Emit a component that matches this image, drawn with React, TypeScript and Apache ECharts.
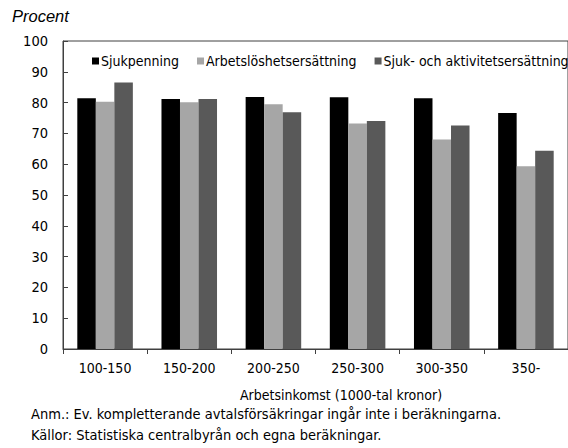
import React, { useEffect, useRef } from "react";
import * as echarts from "echarts";

const categories = ["100-150", "150-200", "200-250", "250-300", "300-350", "350-"];
const sjukpenning = [81.4, 81.2, 81.8, 81.7, 81.4, 76.6];
const arbetsloshet = [80.3, 80.1, 79.5, 73.2, 68.0, 59.3];
const sjukAktivitet = [86.5, 81.2, 76.9, 74.0, 72.6, 64.4];
const yTicks = { min: 0, max: 100, interval: 10 };
const seriesNames = ["Sjukpenning", "Arbetslöshetsersättning", "Sjuk- och aktivitetsersättning"];
const xName = "Arbetsinkomst (1000-tal kronor)";
const yName = "Procent";
const notes = [
  "Anm.: Ev. kompletterande avtalsförsäkringar ingår inte i beräkningarna.",
  "Källor: Statistiska centralbyrån och egna beräkningar.",
];

const NARROW = "'Liberation Sans Narrow', 'DejaVu Sans Condensed', 'Arial Narrow', sans-serif";

export default function App() {
  const ref = useRef<HTMLDivElement>(null);
  useEffect(() => {
    document.body.style.margin = "0";
    const chart = echarts.init(ref.current!, null, { renderer: "svg" });
    const colors = ["#000000", "#a6a6a6", "#595959"];
    const data = [sjukpenning, arbetsloshet, sjukAktivitet];
    chart.setOption({
      animation: false,
      grid: {
        left: 63,
        top: 41,
        width: 506,
        height: 308,
        show: true,
        borderColor: "#404040",
        borderWidth: 1,
        backgroundColor: "transparent",
      },
      legend: {
        left: 87,
        top: 49,
        width: 520,
        icon: "rect",
        itemWidth: 7,
        itemHeight: 7,
        itemGap: 18,
        textStyle: { fontFamily: NARROW, fontSize: 14, color: "#000", padding: [0, 0, 0, -3] },
        data: seriesNames,
      },
      xAxis: {
        type: "category",
        data: categories,
        axisLine: { lineStyle: { color: "#404040" } },
        axisTick: { show: true, length: 5, lineStyle: { color: "#404040" } },
        axisLabel: { fontFamily: NARROW, fontSize: 14, color: "#000", margin: 12 },
        name: xName,
        nameLocation: "middle",
        nameGap: 39,
        nameTextStyle: { fontFamily: NARROW, fontSize: 14, color: "#000", padding: [0, 0, 0, 51] },
      },
      yAxis: {
        type: "value",
        min: yTicks.min,
        max: yTicks.max,
        interval: yTicks.interval,
        axisLine: { show: true, lineStyle: { color: "#404040" } },
        axisTick: { show: true, inside: true, length: 5, lineStyle: { color: "#404040" } },
        splitLine: { show: false },
        axisLabel: { fontFamily: NARROW, fontSize: 14.5, color: "#000", margin: 15 },
      },
      graphic: [
        {
          type: "text",
          left: 12,
          top: 7,
          style: { text: yName, fontFamily: "'Liberation Sans', Arial, sans-serif", fontStyle: "italic", fontSize: 16.5, fill: "#000" },
        },
        {
          type: "text",
          left: 31,
          top: 406,
          style: { text: notes[0], fontFamily: NARROW, fontSize: 14.5, fill: "#000" },
        },
        {
          type: "text",
          left: 31,
          top: 427,
          style: { text: notes[1], fontFamily: NARROW, fontSize: 14.5, fill: "#000" },
        },
      ],
      series: seriesNames.map((name, i) => ({
        name,
        type: "bar",
        data: data[i],
        barGap: "0%",
        barCategoryGap: "34%",
        itemStyle: { color: colors[i] },
      })),
    });
    return () => chart.dispose();
  }, []);
  return <div ref={ref} style={{ width: 568, height: 448 }} />;
}
